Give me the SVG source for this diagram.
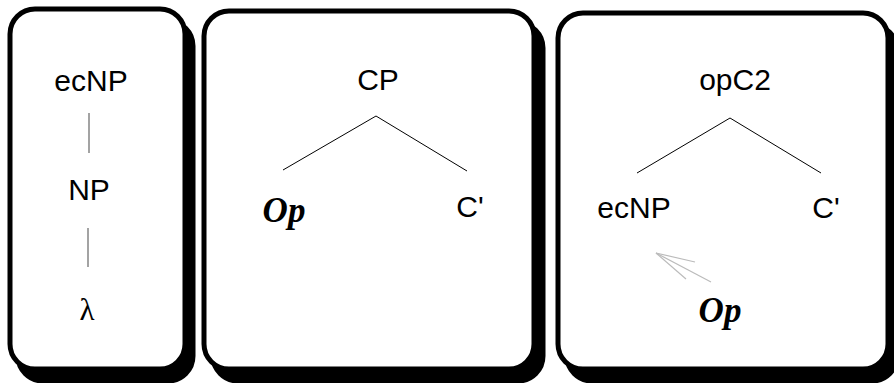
<svg xmlns="http://www.w3.org/2000/svg" width="894" height="383" viewBox="0 0 894 383">
<style>
.shadow{fill:#000;stroke:#000;stroke-width:5}
.box{fill:#fff;stroke:#000;stroke-width:5}
.lbl{font-family:"Liberation Sans",Arial,sans-serif;font-size:30px;fill:#000;text-anchor:middle}
.op{font-family:"Liberation Serif","Times New Roman",serif;font-size:35px;font-weight:bold;font-style:italic;fill:#000;text-anchor:middle}
.lam{font-family:"Liberation Serif","Times New Roman",serif;font-size:31px;fill:#000;text-anchor:middle}
.edge{stroke:#000;stroke-width:1;fill:none}
.vedge{stroke:#666;stroke-width:1.2;fill:none}
.move{stroke:#bbb;stroke-width:1.2;fill:none}
</style>
<g id="panel1">
<rect class="shadow" x="18" y="21" width="175" height="360" rx="25"/>
<rect class="box" x="10" y="9" width="175" height="360" rx="25"/>
</g>
<g id="panel2">
<rect class="shadow" x="213" y="23" width="330" height="358" rx="25"/>
<rect class="box" x="204" y="11" width="330" height="358" rx="25"/>
</g>
<g id="panel3">
<rect class="shadow" x="567" y="25" width="330" height="356" rx="25"/>
<rect class="box" x="558" y="13" width="330" height="356" rx="25"/>
</g>
<g id="connectors">
<line class="vedge" x1="89" y1="113" x2="89" y2="153"/>
<line class="vedge" x1="88" y1="228" x2="88" y2="267"/>
<line class="edge" x1="376" y1="116" x2="283" y2="170"/>
<line class="edge" x1="376" y1="116" x2="467" y2="171"/>
<line class="edge" x1="730" y1="118" x2="637" y2="173"/>
<line class="edge" x1="730" y1="118" x2="821" y2="173"/>
<line class="move" x1="711" y1="282" x2="656" y2="253"/>
<line class="move" x1="656" y1="253" x2="695" y2="262"/>
<line class="move" x1="656" y1="253" x2="686" y2="279"/>
</g>
<g id="n-ecNP1"><text class="lbl" x="91" y="91">ecNP</text></g>
<g id="n-NP1"><text class="lbl" x="89" y="200">NP</text></g>
<g id="n-lambda"><text class="lam" x="87" y="320">λ</text></g>
<g id="n-CP"><text class="lbl" x="378" y="90">CP</text></g>
<g id="n-Op2"><text class="op" x="284" y="222">Op</text></g>
<g id="n-Cbar2"><text class="lbl" x="470" y="217">C'</text></g>
<g id="n-opC2"><text class="lbl" x="735" y="90">opC2</text></g>
<g id="n-ecNP3"><text class="lbl" x="634" y="218">ecNP</text></g>
<g id="n-Cbar3"><text class="lbl" x="826" y="218">C'</text></g>
<g id="n-Op3"><text class="op" x="720" y="322">Op</text></g>
</svg>
